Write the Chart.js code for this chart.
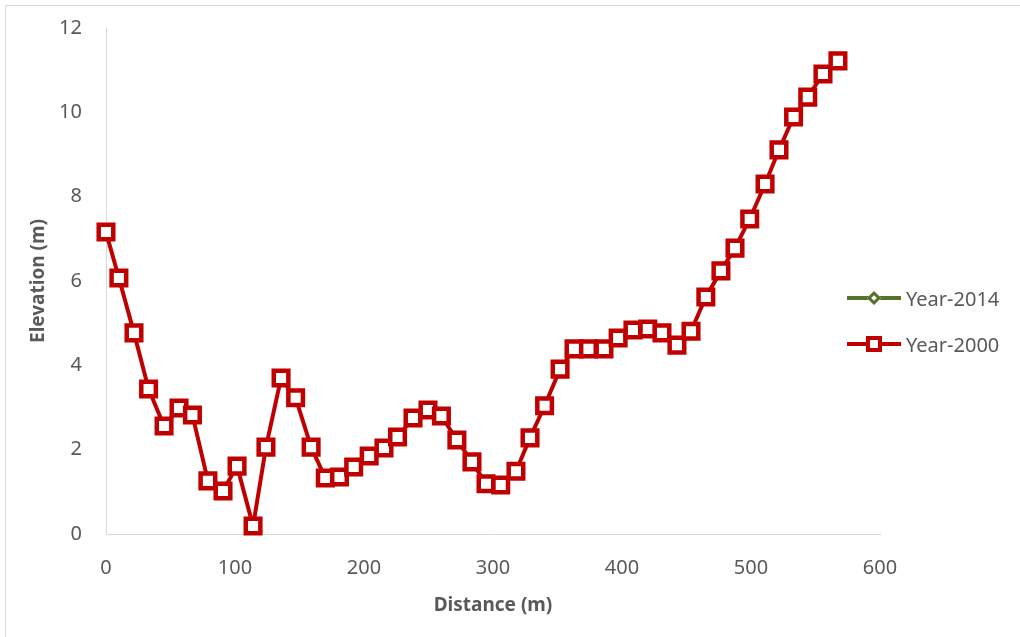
<!DOCTYPE html>
<html>
<head>
<meta charset="utf-8">
<script src="https://cdn.jsdelivr.net/npm/chart.js@4"></script>
<style>
    body { margin: 0; background: #fff; }
    #moldura {
        position: absolute; left: 5px; top: 5px; width: 1030px; height: 650px;
        border-left: 1px solid #d9d9d9; border-top: 1px solid #d9d9d9;
    }
    #areaGrafico { position: absolute; left: 0; top: 0; width: 1020px; height: 637px; }
    #legenda {
        position: absolute; left: 847px; top: 275px;
        font-family: "Noto Sans", sans-serif; font-size: 20px; color: #595959;
    }
    .item { position: relative; height: 46px; display: flex; align-items: center; }
    .linha { position: relative; width: 54px; height: 3.5px; margin-right: 5px; }
    .marca { position: absolute; left: 50%; top: 50%; background: #fff; box-sizing: border-box; }
</style>
</head>
<body>
<div id="moldura"></div>
<div id="areaGrafico"><canvas id="graficoPerfil" width="1020" height="637"></canvas></div>
<div id="legenda">
    <div class="item">
        <div class="linha" style="background:#55712c;">
            <div class="marca" style="width:10px;height:10px;margin:-5px 0 0 -5px;border:3px solid #55712c;transform:rotate(45deg);"></div>
        </div>
        <span>Year-2014</span>
    </div>
    <div class="item">
        <div class="linha" style="background:#c00000;">
            <div class="marca" style="width:16px;height:16px;margin:-8px 0 0 -8px;border:4px solid #c00000;"></div>
        </div>
        <span>Year-2000</span>
    </div>
</div>
<script>
// Distância ao longo do perfil (m)
const distancias = [0, 10, 21.7, 33, 45, 56.6, 67, 79, 90.7, 101.6, 114, 124, 135.7, 147, 159, 170, 181, 192, 204, 215.5,
    226, 238, 249.6, 260, 272, 283.7, 294.6, 306, 317.8, 328.7, 340, 352, 362.8, 374, 386, 397, 408.5, 420, 431, 442.6,
    453.5, 465, 476.7, 487.6, 499, 510.9, 521.7, 533, 544, 555.8, 567.4];
// Elevação (m) - ano 2000
const elev2000 = [7.16, 6.07, 4.77, 3.44, 2.56, 2.99, 2.82, 1.26, 1.02, 1.61, 0.19, 2.06, 3.70, 3.23, 2.06, 1.33, 1.35, 1.59, 1.85, 2.04,
    2.30, 2.75, 2.94, 2.80, 2.23, 1.71, 1.19, 1.16, 1.49, 2.28, 3.04, 3.91, 4.39, 4.39, 4.39, 4.65, 4.84, 4.86, 4.77, 4.48,
    4.81, 5.62, 6.24, 6.78, 7.47, 8.30, 9.11, 9.89, 10.36, 10.91, 11.22];
// Ano 2014: nenhum ponto aparece no gráfico
const elev2014 = [];

const ticksX = [0, 100, 200, 300, 400, 500, 600];
const ticksY = [0, 2, 4, 6, 8, 10, 12];

const corTexto = '#595959';
const fonte = '"Noto Sans", sans-serif';

function montarPontos(xs, ys) {
    return ys.map((y, i) => ({ x: xs[i], y: y }));
}

const ctx = document.getElementById('graficoPerfil').getContext('2d');

new Chart(ctx, {
    type: 'line',
    data: {
        datasets: [
            {
                label: 'Year-2000',
                data: montarPontos(distancias, elev2000),
                borderColor: '#c00000',
                borderWidth: 4,
                pointStyle: 'rect',
                pointRadius: 10.3,
                pointBorderWidth: 4.5,
                pointBackgroundColor: '#ffffff',
                pointBorderColor: '#c00000',
                tension: 0,
                clip: false
            },
            {
                label: 'Year-2014',
                data: montarPontos(distancias, elev2014),
                borderColor: '#55712c',
                borderWidth: 3,
                pointStyle: 'rectRot',
                pointRadius: 6,
                pointBackgroundColor: '#ffffff',
                pointBorderColor: '#55712c',
                clip: false
            }
        ]
    },
    options: {
        responsive: false,
        animation: false,
        layout: { padding: { top: 21, right: 140, left: 0, bottom: 0 } },
        plugins: { legend: { display: false }, tooltip: { enabled: false } },
        scales: {
            x: {
                type: 'linear',
                min: 0, max: 600,
                afterBuildTicks: s => { s.ticks = ticksX.map(v => ({ value: v })); },
                afterFit: s => { s.height = 103; },
                grid: { display: false },
                border: { display: true, color: '#d9d9d9', width: 1 },
                ticks: { color: corTexto, font: { family: fonte, size: 20 }, padding: 14, maxRotation: 0 },
                title: { display: true, text: 'Distance (m)', color: corTexto, font: { family: fonte, size: 19, weight: 'bold' }, padding: { top: 4, bottom: 20 } }
            },
            y: {
                type: 'linear',
                min: 0, max: 12,
                afterBuildTicks: s => { s.ticks = ticksY.map(v => ({ value: v })); },
                afterFit: s => { s.width = 106; },
                grid: { display: false },
                border: { display: true, color: '#d9d9d9', width: 1 },
                ticks: { color: corTexto, font: { family: fonte, size: 20 }, padding: 16 },
                title: { display: true, text: 'Elevation (m)', color: corTexto, font: { family: fonte, size: 19, weight: 'bold' }, padding: { top: 27, bottom: 0 } }
            }
        }
    }
});
</script>
</body>
</html>
